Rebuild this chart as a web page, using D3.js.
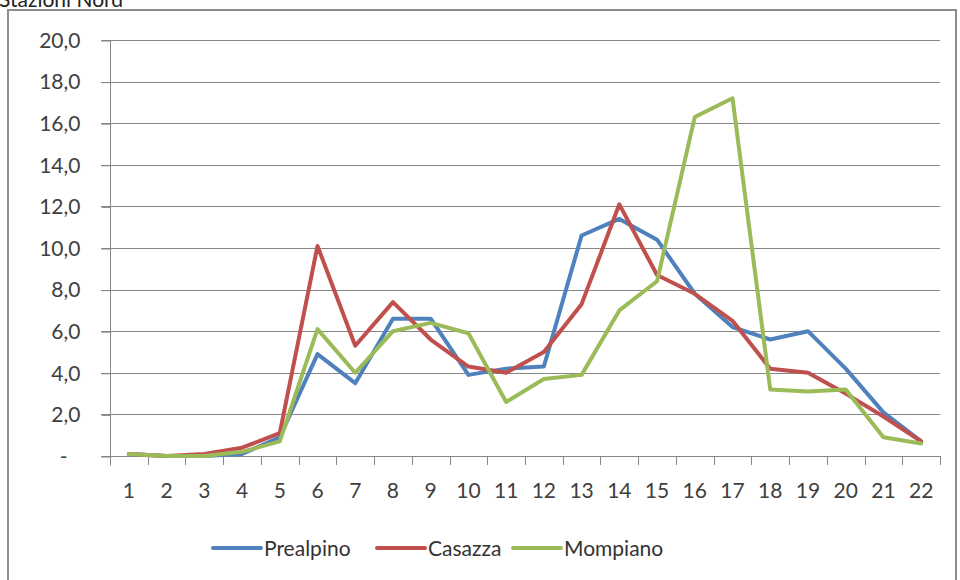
<!DOCTYPE html>
<html>
<head>
<meta charset="utf-8">
<script src="https://cdn.jsdelivr.net/npm/d3@7/dist/d3.min.js"></script>
<style>
  body { margin: 0; background: #fff; }
  svg { display: block; font-family: Lato, "Open Sans", sans-serif; }
</style>
</head>
<body>
<svg id="chart" width="960" height="580"></svg>
<script>
// data
var categories = d3.range(1, 23);
var prealpino = [0.1, 0.0, 0.0, 0.1, 0.9, 4.9, 3.5, 6.6, 6.6, 3.9, 4.2, 4.3, 10.6, 11.4, 10.4, 7.8, 6.2, 5.6, 6.0, 4.2, 2.1, 0.7];
var casazza   = [0.1, 0.0, 0.1, 0.4, 1.1, 10.1, 5.3, 7.4, 5.6, 4.3, 4.0, 5.0, 7.3, 12.1, 8.7, 7.8, 6.5, 4.2, 4.0, 3.0, 1.9, 0.7];
var mompiano  = [0.1, 0.0, 0.0, 0.2, 0.7, 6.1, 4.0, 6.0, 6.4, 5.9, 2.6, 3.7, 3.9, 7.0, 8.4, 16.3, 17.2, 3.2, 3.1, 3.2, 0.9, 0.6];
var seriesNames = ["Prealpino", "Casazza", "Mompiano"];
var yTicks = [0, 2, 4, 6, 8, 10, 12, 14, 16, 18, 20];

var colors = ["#4f81bd", "#c0504d", "#9bbb59"];
var series = [prealpino, casazza, mompiano];

var svg = d3.select("#chart");

// outer chart frame (bottom runs off the picture)
svg.append("rect")
    .attr("x", 8).attr("y", 10)
    .attr("width", 948).attr("height", 620)
    .attr("fill", "none")
    .attr("stroke", "#8c8c8c")
    .attr("stroke-width", 2);

// title, mostly cut off at the top
svg.append("text")
    .attr("x", -1).attr("y", 7)
    .attr("font-size", 21)
    .attr("fill", "#222")
    .text("Stazioni Nord");

var x = d3.scaleBand().domain(categories).range([110, 940]);
var y = d3.scaleLinear().domain([0, 20]).range([456, 40]);

// gridlines
svg.append("g").selectAll("line")
    .data(yTicks.filter(function(d) { return d > 0; }))
    .join("line")
    .attr("x1", 101).attr("x2", 940)
    .attr("y1", function(d) { return Math.round(y(d)) + 0.5; })
    .attr("y2", function(d) { return Math.round(y(d)) + 0.5; })
    .attr("stroke", "#868686")
    .attr("stroke-width", 1);

// y axis
var yAxis = svg.append("g")
    .attr("transform", "translate(110.5,0.5)")
    .call(d3.axisLeft(y).tickValues(yTicks).tickSize(9).tickPadding(21)
        .tickFormat(function(d) { return d === 0 ? "-" : d3.format(".1f")(d).replace(".", ","); }));
yAxis.select(".domain").attr("stroke", "#868686").attr("d", "M0,40V465");
yAxis.selectAll(".tick line").attr("stroke", "#868686");
yAxis.selectAll(".tick text")
    .attr("font-size", 21)
    .attr("fill", "#404040")
    .attr("font-family", "Lato, sans-serif")
    .attr("dx", function(d) { return d === 0 ? -13 : 0; });

// x axis
var xAxis = svg.append("g")
    .attr("transform", "translate(0," + (y(0) + 0.5) + ")")
    .call(d3.axisBottom(x).tickSize(0).tickPadding(27));
xAxis.select(".domain").attr("stroke", "#868686").attr("d", "M101,0H940");
xAxis.selectAll(".tick text")
    .attr("font-size", 21)
    .attr("fill", "#404040")
    .attr("font-family", "Lato, sans-serif");

// tick marks between categories
svg.append("g").selectAll("line")
    .data(categories.concat([23]))
    .join("line")
    .attr("x1", function(d) { return Math.round(x(d) !== undefined ? x(d) : 940) + 0.5; })
    .attr("x2", function(d) { return Math.round(x(d) !== undefined ? x(d) : 940) + 0.5; })
    .attr("y1", y(0)).attr("y2", y(0) + 9)
    .attr("stroke", "#868686");

// lines
var line = d3.line()
    .x(function(d, i) { return x(categories[i]) + x.bandwidth() / 2; })
    .y(function(d) { return y(d); });

svg.append("g").selectAll("path")
    .data(series)
    .join("path")
    .attr("d", line)
    .attr("fill", "none")
    .attr("stroke", function(d, i) { return colors[i]; })
    .attr("stroke-width", 4)
    .attr("stroke-linejoin", "round")
    .attr("stroke-linecap", "round");

// legend
var legendX = [213, 377, 513];
var legend = svg.append("g").selectAll("g")
    .data(seriesNames)
    .join("g")
    .attr("transform", function(d, i) { return "translate(" + legendX[i] + ",548)"; });

legend.append("line")
    .attr("x1", 0).attr("x2", 48)
    .attr("stroke", function(d, i) { return colors[i]; })
    .attr("stroke-width", 4)
    .attr("stroke-linecap", "round");

legend.append("text")
    .attr("x", 51).attr("y", 8)
    .attr("font-size", 21)
    .attr("fill", "#333")
    .text(function(d) { return d; });
</script>
</body>
</html>
